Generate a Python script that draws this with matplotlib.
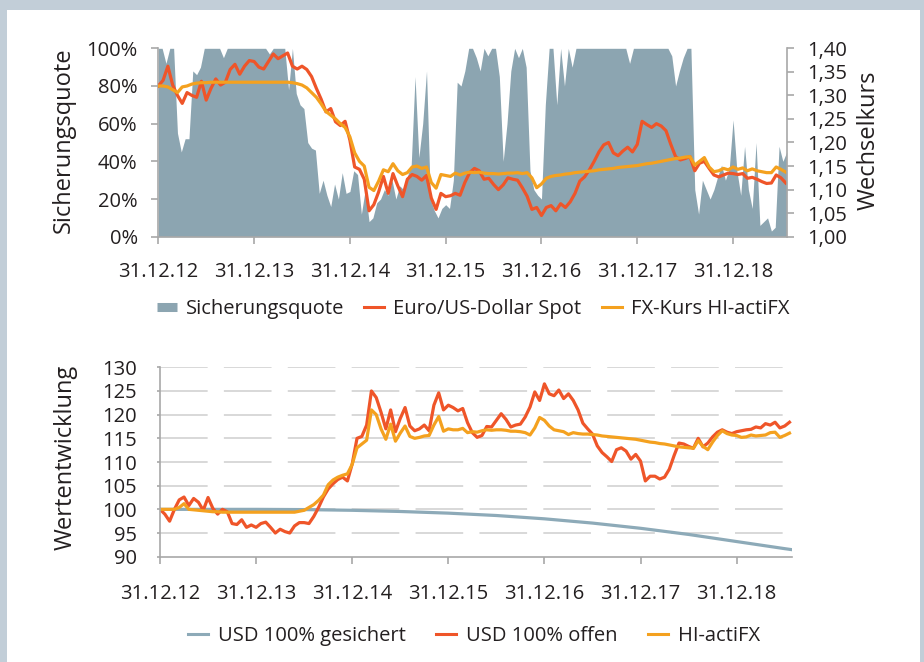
import matplotlib

matplotlib.use("Agg")
import matplotlib.pyplot as plt
import numpy as np
from matplotlib.lines import Line2D
from matplotlib.patches import Rectangle

# time axis: years since 31.12.2012
STEP = 0.05        # spot / actiFX lines
HEDGE_STEP = 0.04  # hedge ratio area

YEAR_LABELS = ["31.12.12", "31.12.13", "31.12.14", "31.12.15",
               "31.12.16", "31.12.17", "31.12.18"]

# top panel, right axis: EUR/USD
eurusd_spot = [
    1.320, 1.332, 1.362, 1.322, 1.300, 1.283, 1.306, 1.300, 1.296, 1.330,
    1.290, 1.315, 1.335, 1.322, 1.328, 1.355, 1.366, 1.345, 1.362, 1.374,
    1.372, 1.360, 1.356, 1.372, 1.388, 1.378, 1.384, 1.390, 1.362, 1.356,
    1.362, 1.355, 1.340, 1.315, 1.292, 1.265, 1.272, 1.244, 1.236, 1.245,
    1.205, 1.148, 1.143, 1.122, 1.055, 1.068, 1.095, 1.128, 1.092, 1.134,
    1.108, 1.085, 1.122, 1.132, 1.128, 1.120, 1.130, 1.082, 1.058, 1.092,
    1.085, 1.087, 1.092, 1.088, 1.115, 1.136, 1.145, 1.140, 1.122, 1.124,
    1.111, 1.100, 1.110, 1.125, 1.122, 1.120, 1.104, 1.086, 1.058, 1.062,
    1.045, 1.062, 1.066, 1.055, 1.070, 1.062, 1.074, 1.092, 1.118, 1.127,
    1.142, 1.160, 1.180, 1.195, 1.200, 1.178, 1.172, 1.182, 1.190, 1.180,
    1.196, 1.245, 1.238, 1.232, 1.240, 1.235, 1.225, 1.196, 1.170, 1.163,
    1.166, 1.170, 1.140, 1.156, 1.160, 1.145, 1.131, 1.127, 1.131, 1.135,
    1.134, 1.132, 1.134, 1.124, 1.126, 1.122, 1.117, 1.113, 1.114, 1.131,
    1.125, 1.114,
]
fx_actifx = [
    1.320, 1.320, 1.318, 1.312, 1.306, 1.318, 1.320, 1.324, 1.326, 1.327,
    1.327, 1.328, 1.328, 1.328, 1.328, 1.328, 1.328, 1.328, 1.328, 1.328,
    1.328, 1.328, 1.328, 1.328, 1.328, 1.328, 1.328, 1.328, 1.327, 1.325,
    1.322, 1.316, 1.306, 1.296, 1.282, 1.266, 1.258, 1.250, 1.240, 1.232,
    1.212, 1.178, 1.160, 1.150, 1.105, 1.098, 1.118, 1.142, 1.138, 1.155,
    1.140, 1.132, 1.136, 1.148, 1.150, 1.145, 1.148, 1.115, 1.103, 1.132,
    1.130, 1.128, 1.135, 1.131, 1.135, 1.137, 1.136, 1.137, 1.135, 1.134,
    1.134, 1.133, 1.134, 1.135, 1.135, 1.136, 1.134, 1.136, 1.125, 1.104,
    1.112, 1.124, 1.128, 1.130, 1.131, 1.133, 1.134, 1.136, 1.137, 1.138,
    1.139, 1.140, 1.142, 1.143, 1.144, 1.145, 1.147, 1.148, 1.149, 1.150,
    1.151, 1.153, 1.155, 1.156, 1.158, 1.160, 1.162, 1.164, 1.166, 1.167,
    1.169, 1.170, 1.152, 1.160, 1.168, 1.148, 1.138, 1.140, 1.145, 1.142,
    1.148, 1.143, 1.146, 1.140, 1.144, 1.140, 1.138, 1.136, 1.136, 1.148,
    1.143, 1.137,
]

# top panel, left axis: hedge ratio in %
hedge_ratio = [
    100, 100, 92, 100, 100, 55, 45, 52, 52, 88,
    86, 90, 100, 100, 100, 100, 100, 95, 100, 100,
    100, 100, 100, 100, 100, 100, 100, 100, 100, 97,
    100, 100, 100, 100, 78, 100, 76, 70, 68, 50,
    47, 46, 23, 30, 22, 16, 28, 20, 34, 23,
    24, 35, 33, 12, 25, 8, 10, 18, 20, 25,
    22, 30, 20, 27, 25, 32, 38, 85, 42, 60,
    88, 20, 14, 10, 15, 17, 15, 30, 82, 80,
    88, 100, 100, 95, 88, 100, 96, 100, 100, 85,
    40, 60, 88, 100, 95, 100, 90, 35, 25, 22,
    20, 70, 100, 100, 70, 100, 80, 100, 90, 100,
    100, 100, 100, 100, 100, 100, 100, 100, 100, 100,
    100, 100, 100, 92, 100, 100, 100, 100, 100, 100,
    100, 100, 100, 100, 96, 80, 88, 95, 100, 100,
    25, 12, 30, 25, 20, 25, 32, 38, 30, 36,
    62, 35, 22, 48, 25, 15, 50, 6, 8, 10,
    3, 5, 48, 40, 45,
]

# bottom panel: value development (31.12.12 = 100)
usd_open = [
    100.0, 99.0, 97.5, 100.0, 102.0, 102.6, 100.8, 102.3, 101.5, 99.8,
    102.5, 100.2, 99.0, 100.0, 99.5, 97.0, 96.8, 97.8, 96.2, 96.7,
    96.2, 97.0, 97.3, 96.2, 95.0, 95.8, 95.3, 95.0, 96.5, 97.2,
    97.2, 97.0, 98.5, 100.4, 102.6, 104.3, 105.4, 106.3, 106.8, 106.0,
    109.6, 115.0, 115.4, 117.8, 125.0, 123.6, 120.5, 117.0, 121.0, 116.4,
    119.2, 121.5, 117.6, 116.6, 117.0, 117.8, 116.6, 122.0, 124.6, 121.0,
    122.0, 121.5, 120.8, 121.3, 118.3, 116.2, 115.2, 115.6, 117.5, 117.4,
    118.8, 120.2, 119.0, 117.4, 117.8, 118.0, 119.5, 121.6, 124.8, 123.0,
    126.5, 124.4, 124.0, 125.2, 123.4, 124.4, 123.0, 121.0, 118.2, 117.0,
    115.9, 113.4, 112.0, 111.1, 110.1, 112.6, 113.0, 112.3, 110.6, 111.6,
    110.2, 106.0, 107.0, 107.0, 106.4, 106.8, 108.5, 111.4, 114.0, 113.8,
    113.3, 112.9, 115.0, 113.2, 114.0, 115.3, 116.3, 116.8, 116.3, 116.0,
    116.4, 116.6, 116.8, 116.9, 117.4, 117.2, 118.1, 117.8, 118.4, 117.2,
    117.6, 118.4,
]
actifx_value = [
    100.0, 100.0, 100.0, 100.0, 100.4, 101.2, 100.0, 99.9, 99.8, 99.7,
    99.6, 99.5, 99.5, 99.4, 99.4, 99.4, 99.4, 99.4, 99.4, 99.4,
    99.4, 99.4, 99.4, 99.4, 99.4, 99.4, 99.4, 99.4, 99.4, 99.6,
    99.8, 100.4, 101.0, 101.9, 103.0, 105.2, 106.2, 106.8, 107.2, 107.5,
    109.5, 113.0, 113.8, 114.6, 121.0, 120.0, 117.0, 114.8, 118.0, 114.4,
    116.1, 117.6, 115.4, 115.0, 115.2, 115.5, 115.6, 117.8, 119.6, 116.5,
    117.0, 116.8, 116.8, 117.1, 116.2, 116.4, 116.3, 116.6, 116.8, 116.7,
    116.8, 116.8, 116.7, 116.5, 116.5, 116.4, 116.2, 115.7, 117.2, 119.4,
    118.8, 117.6, 116.8, 116.6, 116.4, 115.8, 116.2, 116.0, 115.9, 115.9,
    115.8, 115.7, 115.5, 115.4, 115.3, 115.2, 115.1, 115.0, 114.9, 114.8,
    114.6, 114.4, 114.2, 114.1, 113.9, 113.8, 113.6, 113.4, 113.2, 113.1,
    113.0, 112.9, 114.5, 113.3, 112.6, 114.2, 115.6, 116.6, 116.0, 115.7,
    115.6, 115.2, 115.3, 115.7, 115.5, 115.6, 115.7, 116.2, 116.3, 115.2,
    115.6, 116.1,
]
hedged_t = [0.0, 0.5, 1.0, 1.5, 2.0, 2.5, 3.0, 3.5, 4.0, 4.5, 5.0, 5.5, 6.0, 6.5, 6.57]
usd_hedged = [100.0, 100.0, 100.0, 99.95, 99.8, 99.55, 99.2, 98.7, 98.0,
              97.1, 96.0, 94.7, 93.2, 91.7, 91.5]

FILL = "#8ca5b1"
RED = "#ef5529"
ORANGE = "#f4a11f"
HEDGED = "#8daab8"
BORDER = "#c2ced8"
TEXT = "#231f20"
AXIS = "#a8a8a8"
GRID = "#d5d5d5"

plt.rcParams["font.family"] = ["Open Sans", "DejaVu Sans"]
plt.rcParams["text.color"] = TEXT
plt.rcParams["xtick.color"] = AXIS
plt.rcParams["ytick.color"] = AXIS
plt.rcParams["xtick.labelcolor"] = TEXT
plt.rcParams["ytick.labelcolor"] = TEXT

W, H = 924, 662
fig = plt.figure(figsize=(W / 100, H / 100), dpi=100, facecolor=BORDER)
fig.add_artist(Rectangle((7 / W, 0), 913 / W, 652 / H, transform=fig.transFigure,
                         facecolor="white", edgecolor="none", zorder=-10))


def px_axes(left, top, right, bottom):
    return fig.add_axes([left / W, 1 - bottom / H, (right - left) / W, (bottom - top) / H])


t_line = np.arange(len(eurusd_spot)) * STEP
t_hedge = np.arange(len(hedge_ratio)) * HEDGE_STEP

# ---- top panel ----
ax = px_axes(158.3, 48.3, 787, 236.7)
ax.fill_between(t_hedge, 0, np.array(hedge_ratio) / 100, color=FILL, lw=0)
ax.set_xlim(0, 6.563)
ax.set_ylim(0, 1)
ax.set_yticks(np.arange(0, 1.01, 0.2))
ax.set_yticklabels([f"{v}%" for v in range(0, 101, 20)])
ax.set_xticks(range(7))
ax.set_xticklabels(YEAR_LABELS)
ax.tick_params(axis="x", length=5.3, width=1.2, pad=13, labelsize=14.5)
ax.tick_params(axis="y", length=4.8, width=1.2, pad=10, labelsize=14.5)
for side in ["top", "right"]:
    ax.spines[side].set_visible(False)
for side in ["left", "bottom"]:
    ax.spines[side].set_color(AXIS)
    ax.spines[side].set_linewidth(1.2)

ax2 = ax.twinx()
ax2.plot(t_line, eurusd_spot, color=RED, lw=2.3)
ax2.plot(t_line, fx_actifx, color=ORANGE, lw=2.3)
ax2.set_ylim(1.0, 1.4)
ax2.set_yticks(np.arange(1.0, 1.401, 0.05))
ax2.set_yticklabels([f"{v:.2f}".replace(".", ",") for v in np.arange(1.0, 1.401, 0.05)])
ax2.tick_params(axis="y", length=5.3, width=1.2, pad=9, labelsize=14.5)
for side in ["top", "left", "bottom"]:
    ax2.spines[side].set_visible(False)
ax2.spines["right"].set_color(AXIS)
ax2.spines["right"].set_linewidth(1.2)

fig.text(64 / W, 1 - 140 / H, "Sicherungsquote", rotation=90, ha="center", va="center", fontsize=17)
fig.text(869 / W, 1 - 140 / H, "Wechselkurs", rotation=90, ha="center", va="center", fontsize=17)

top_handles = [
    Line2D([], [], color=FILL, lw=6.5, solid_capstyle="butt"),
    Line2D([], [], color=RED, lw=2.2),
    Line2D([], [], color=ORANGE, lw=2.2),
]
fig.legend(top_handles, ["Sicherungsquote", "Euro/US-Dollar Spot", "FX-Kurs HI-actiFX"],
           loc="center", bbox_to_anchor=(473 / W, 1 - 309 / H), ncol=3, frameon=False,
           fontsize=14.5, handlelength=1.0, handletextpad=0.45, columnspacing=1.0)

# ---- bottom panel ----
bx = px_axes(160, 367.3, 791.7, 556.7)
# dashed horizontal grid, 48px dash / 16px gap
for level in range(95, 131, 5):
    bx.axhline(level, color=GRID, lw=1.3, dashes=(34.3 / 1.3, 11.7 / 1.3), zorder=0)
bx.plot(hedged_t, usd_hedged, color=HEDGED, lw=2.3)
bx.plot(t_line, usd_open, color=RED, lw=2.3)
bx.plot(t_line, actifx_value, color=ORANGE, lw=2.3)
bx.set_xlim(0, 6.573)
bx.set_ylim(90, 130)
bx.set_yticks(range(90, 131, 5))
bx.set_xticks(range(7))
bx.set_xticklabels(YEAR_LABELS)
bx.tick_params(axis="x", length=5.3, width=1.2, pad=14, labelsize=14.5)
bx.tick_params(axis="y", length=2, width=1.2, pad=14.5, labelsize=14.5)
for side in ["top", "right"]:
    bx.spines[side].set_visible(False)
for side in ["left", "bottom"]:
    bx.spines[side].set_color(AXIS)
    bx.spines[side].set_linewidth(1.2)

fig.text(66 / W, 1 - 457 / H, "Wertentwicklung", rotation=90, ha="center", va="center", fontsize=17)

bottom_handles = [
    Line2D([], [], color=HEDGED, lw=2.2),
    Line2D([], [], color=RED, lw=2.2),
    Line2D([], [], color=ORANGE, lw=2.2),
]
fig.legend(bottom_handles, ["USD 100% gesichert", "USD 100% offen", "HI-actiFX"],
           loc="center", bbox_to_anchor=(474 / W, 1 - 636 / H), ncol=3, frameon=False,
           fontsize=14.5, handlelength=1.0, handletextpad=0.5, columnspacing=1.5)

fig.savefig("out.png", dpi=100, facecolor=BORDER)
